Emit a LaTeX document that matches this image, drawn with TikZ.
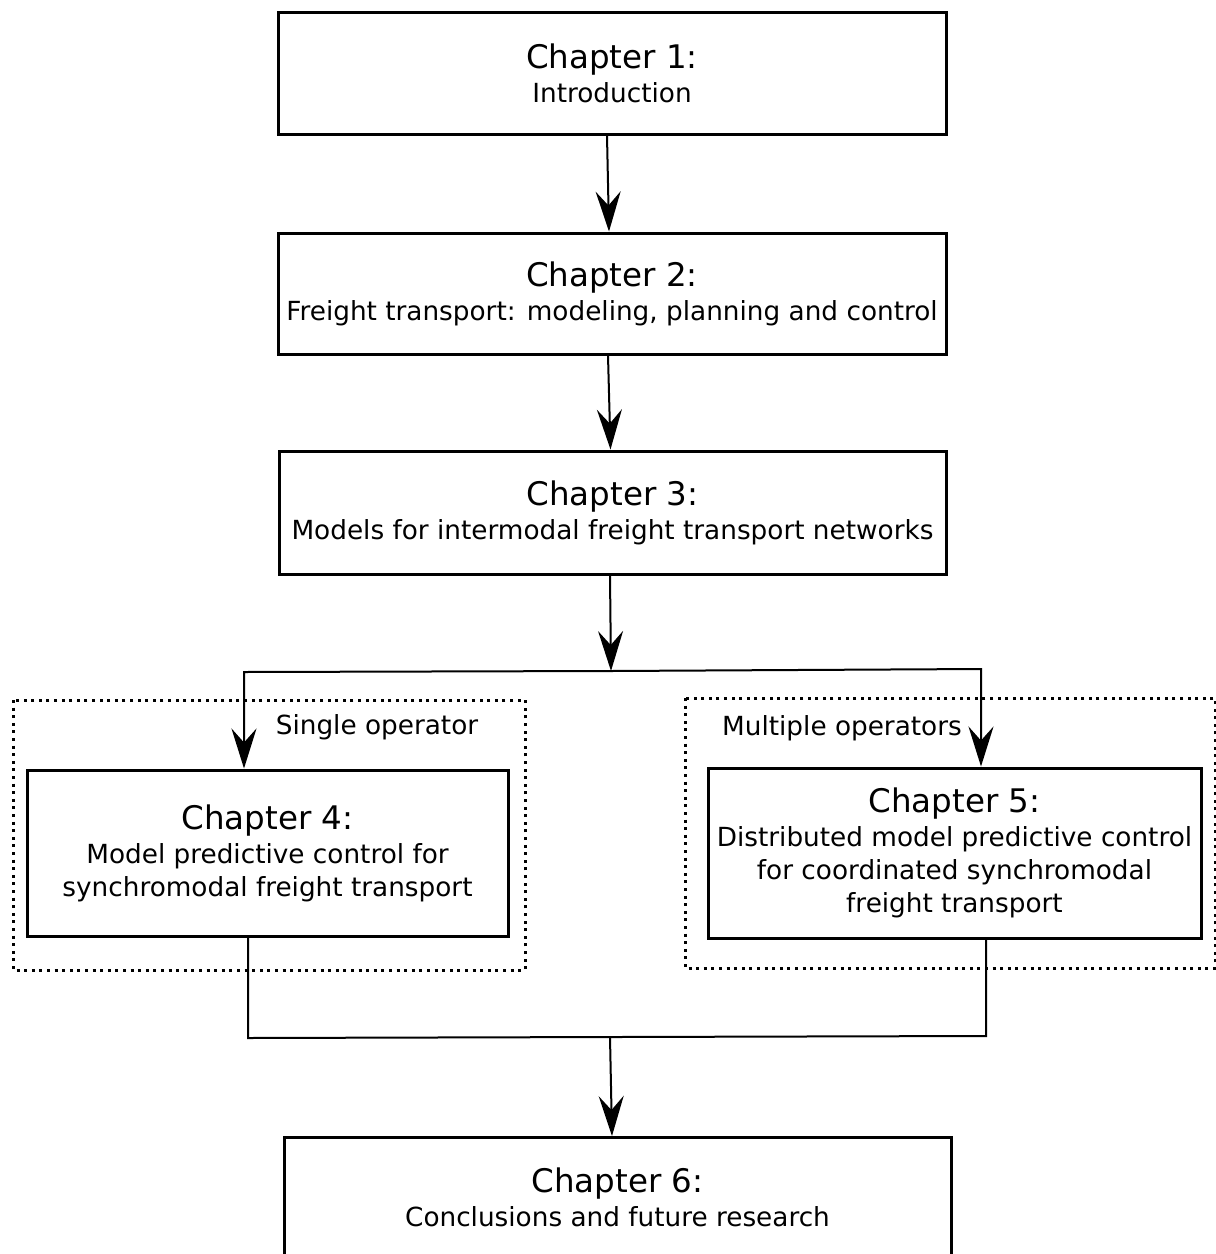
\documentclass[tikz,border=0pt]{standalone}
\usepackage{fontspec}
\setmainfont{DejaVu Sans}
\usetikzlibrary{arrows.meta,calc}
\newcommand{\chtitle}[1]{{\fontsize{32.5}{40}\selectfont #1}\\[1pt]}
\begin{document}
\begin{tikzpicture}[x=1pt,y=-1pt,
  chbox/.style={draw,line width=3pt,minimum width=#1,inner sep=0pt,align=center,
    font=\fontsize{26.3}{33}\selectfont},
  conn/.style={line width=2pt},
  arr/.style={conn,-{Stealth[length=40pt,width=25pt,inset=14pt]}},
  grp/.style={line width=3pt,dash pattern=on 3pt off 4.6pt},
  lbl/.style={font=\fontsize{26.3}{30}\selectfont,inner sep=0pt}
]
\useasboundingbox (0,0) rectangle (1216,1254);
\clip (0,0) rectangle (1216,1254);

\node[chbox=668pt,minimum height=122pt] (b1) at (612,73)
  {\chtitle{Chapter 1:}Introduction};
\node[chbox=668pt,minimum height=121pt] (b2) at (612,293.5)
  {\chtitle{Chapter 2:}Freight transport: modeling, planning and control};
\node[chbox=667pt,minimum height=123pt] (b3) at (612.5,512.5)
  {\chtitle{Chapter 3:}Models for intermodal freight transport networks};

\draw[grp] (13,700) rectangle (525,970);
\draw[grp] (685,698) rectangle (1215,968);
\node[lbl] (l4) at (377,727) {Single operator};
\node[lbl] (l5) at (842,728) {Multiple operators};

\node[chbox=481pt,minimum height=166pt] (b4) at (267.5,853)
  {\chtitle{Chapter 4:}Model predictive control for\\synchromodal freight transport};
\node[chbox=493pt,minimum height=170pt] (b5) at (954.5,853)
  {\chtitle{Chapter 5:}Distributed model predictive control\\for coordinated synchromodal\\freight transport};
\node[chbox=667pt,minimum height=125pt,anchor=north] (b6) at (617.5,1136) {};
\node[align=center,inner sep=0pt,font=\fontsize{26.3}{33}\selectfont] (t6) at (617.5,1197)
  {\chtitle{Chapter 6:}Conclusions and future research};

\coordinate (j1) at (611,671);
\coordinate (jl) at (244,672);
\coordinate (jr) at (981,669);
\coordinate (k1) at (610,1037);
\coordinate (kl) at (248,1038);
\coordinate (kr) at (986,1036);

\draw[arr] ($(b1.south)+(-5,0)$) -- ($(b2.north)+(-3,0)$);
\draw[arr] ($(b2.south)+(-4,0)$) -- ($(b3.north)+(-2,0)$);
\draw[arr] ($(b3.south)+(-2.5,0)$) -- (j1);
\draw[arr] (j1) -- (jl) -- (jl |- b4.north);
\draw[arr] (j1) -- (jr) -- (jr |- b5.north);
\draw[conn] (b4.south -| kl) -- (kl) -- (kr) -- (b5.south -| kr);
\draw[arr] (k1) -- ($(b6.north)+(-5.5,0)$);
\end{tikzpicture}
\end{document}
